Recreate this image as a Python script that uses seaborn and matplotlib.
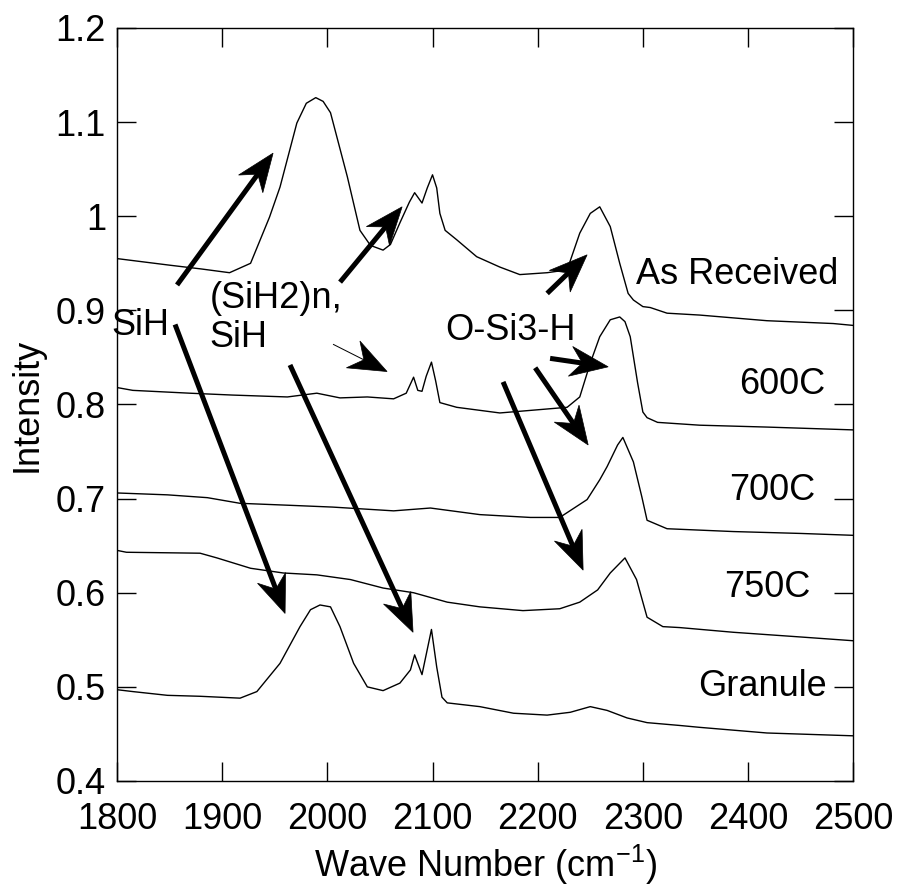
import matplotlib
matplotlib.use("Agg")
import matplotlib.pyplot as plt
import seaborn as sns
import pandas as pd
import numpy as np
from matplotlib.patches import Polygon
from matplotlib.lines import Line2D
from matplotlib.transforms import IdentityTransform

# ---- data ----
as_x = [1800, 1850, 1880, 1907, 1927, 1945, 1955, 1971, 1980, 1989, 1996, 2003, 2019, 2031, 2041, 2053,
        2060, 2069, 2078, 2083, 2090, 2095, 2100, 2104, 2107, 2112, 2123, 2142, 2164, 2183, 2209, 2228,
        2240, 2250, 2259, 2269, 2278, 2286, 2291, 2300, 2307, 2323, 2354, 2418, 2481, 2500]
as_y = [0.955, 0.948, 0.944, 0.940, 0.950, 0.999, 1.031, 1.099, 1.120, 1.126, 1.122, 1.110, 1.042, 0.985,
        0.969, 0.964, 0.970, 0.993, 1.015, 1.025, 1.014, 1.030, 1.044, 1.030, 1.003, 0.985, 0.975, 0.957,
        0.946, 0.938, 0.940, 0.943, 0.982, 1.003, 1.010, 0.989, 0.950, 0.918, 0.911, 0.904, 0.903, 0.897,
        0.895, 0.889, 0.886, 0.884]

c600_x = [1800, 1815, 1869, 1910, 1962, 1990, 2012, 2038, 2063, 2075, 2082, 2086, 2090, 2094, 2099, 2103,
          2107, 2123, 2164, 2196, 2228, 2240, 2250, 2259, 2269, 2278, 2283, 2288, 2295, 2300, 2304, 2314,
          2354, 2418, 2500]
c600_y = [0.818, 0.815, 0.812, 0.810, 0.808, 0.812, 0.807, 0.808, 0.806, 0.812, 0.829, 0.815, 0.814, 0.830,
          0.845, 0.825, 0.802, 0.797, 0.791, 0.794, 0.797, 0.808, 0.844, 0.872, 0.890, 0.893, 0.888, 0.872,
          0.823, 0.792, 0.786, 0.781, 0.778, 0.776, 0.773]

c700_x = [1800, 1848, 1886, 1917, 1962, 2005, 2063, 2098, 2145, 2193, 2221, 2247, 2259, 2266, 2276, 2281,
          2291, 2299, 2304, 2323, 2386, 2450, 2500]
c700_y = [0.706, 0.704, 0.701, 0.695, 0.693, 0.691, 0.687, 0.690, 0.683, 0.680, 0.680, 0.699, 0.720, 0.734,
          0.757, 0.765, 0.739, 0.702, 0.677, 0.668, 0.665, 0.663, 0.661]

c750_x = [1800, 1809, 1879, 1895, 1927, 1958, 1990, 2022, 2053, 2082, 2114, 2145, 2186, 2221, 2240, 2257,
          2269, 2283, 2294, 2304, 2319, 2335, 2386, 2450, 2500]
c750_y = [0.645, 0.643, 0.642, 0.637, 0.626, 0.621, 0.619, 0.614, 0.605, 0.600, 0.590, 0.585, 0.581, 0.583,
          0.590, 0.603, 0.621, 0.637, 0.614, 0.574, 0.564, 0.563, 0.558, 0.553, 0.549]

gr_x = [1800, 1815, 1848, 1879, 1917, 1933, 1955, 1974, 1984, 1993, 2003, 2012, 2025, 2038, 2053, 2069,
        2079, 2083, 2090, 2099, 2104, 2109, 2114, 2145, 2177, 2209, 2231, 2250, 2266, 2285, 2304, 2335,
        2354, 2418, 2500]
gr_y = [0.497, 0.495, 0.491, 0.490, 0.488, 0.495, 0.525, 0.564, 0.582, 0.587, 0.585, 0.564, 0.525, 0.500,
        0.496, 0.504, 0.518, 0.534, 0.513, 0.561, 0.521, 0.489, 0.483, 0.479, 0.472, 0.470, 0.473, 0.479,
        0.475, 0.467, 0.462, 0.459, 0.457, 0.451, 0.448]

series_names = ["As Received", "600C", "700C", "750C", "Granule"]
x_ticks = [1800, 1900, 2000, 2100, 2200, 2300, 2400, 2500]
y_ticks = [0.4, 0.5, 0.6, 0.7, 0.8, 0.9, 1.0, 1.1, 1.2]
y_tick_labels = ["0.4", "0.5", "0.6", "0.7", "0.8", "0.9", "1", "1.1", "1.2"]

# ---- style ----
sns.set_style("ticks")
plt.rcParams["font.family"] = ["Liberation Sans", "DejaVu Sans"]
plt.rcParams["mathtext.fontset"] = "custom"
plt.rcParams["mathtext.rm"] = "Liberation Sans"
plt.rcParams["mathtext.it"] = "Liberation Sans"
plt.rcParams["text.color"] = "black"
plt.rcParams["axes.labelcolor"] = "black"
plt.rcParams["xtick.color"] = "black"
plt.rcParams["ytick.color"] = "black"

FS = 26

fig = plt.figure(figsize=(9, 8.88), dpi=100)
ax = fig.add_axes([0.13, 0.1205, 0.818, 0.848])

frames = []
for name, xs, ys in zip(series_names,
                        [as_x, c600_x, c700_x, c750_x, gr_x],
                        [as_y, c600_y, c700_y, c750_y, gr_y]):
    frames.append(pd.DataFrame({"wave": xs, "intensity": ys, "sample": name}))
df = pd.concat(frames, ignore_index=True)

for name in series_names:
    sub = df[df["sample"] == name]
    sns.lineplot(data=sub, x="wave", y="intensity", ax=ax, color="black",
                 linewidth=1.0, sort=False, estimator=None, legend=False)

ax.set_xlim(1800, 2500)
ax.set_ylim(0.4, 1.2)
ax.set_xticks(x_ticks)
ax.set_xticklabels([str(t) for t in x_ticks])
ax.set_yticks(y_ticks)
ax.set_yticklabels(y_tick_labels)
ax.tick_params(axis="both", direction="in", length=14, width=1, top=True, right=True,
               labelsize=FS, colors="black")
ax.tick_params(axis="x", pad=15)
ax.tick_params(axis="y", pad=8)
for s in ax.spines.values():
    s.set_color("black")
    s.set_linewidth(1.0)
ax.set_xlabel("Wave Number (cm$^{-1}$)", fontsize=FS, labelpad=4)
ax.set_ylabel("Intensity", fontsize=FS, labelpad=8)

# curve labels
ax.text(2486, 0.938, "As Received", ha="right", va="center", fontsize=FS)
ax.text(2474, 0.821, "600C", ha="right", va="center", fontsize=FS)
ax.text(2464, 0.709, "700C", ha="right", va="center", fontsize=FS)
ax.text(2459, 0.606, "750C", ha="right", va="center", fontsize=FS)
ax.text(2475, 0.500, "Granule", ha="right", va="center", fontsize=FS)

# assignment labels
ax.text(1822, 0.884, "SiH", ha="center", va="center", fontsize=FS)
ax.text(1888, 0.892, "(SiH2)n,\nSiH", ha="left", va="center", fontsize=FS, linespacing=1.15)
ax.text(2174, 0.879, "O-Si3-H", ha="center", va="center", fontsize=FS)

# arrows (tail, head, line width in px)
arrows = [
    ((1857.1, 0.927), (1948.4, 1.067), 5.0),
    ((1855.2, 0.885), (1959.8, 0.578), 5.0),
    ((2012.1, 0.930), (2071.1, 1.010), 5.0),
    ((2005.4, 0.864), (2056.8, 0.835), 1.0),
    ((1964.5, 0.842), (2081.5, 0.558), 5.0),
    ((2209.0, 0.918), (2247.0, 0.959), 5.0),
    ((2211.8, 0.849), (2267.0, 0.840), 5.0),
    ((2197.6, 0.839), (2248.0, 0.757), 5.0),
    ((2167.1, 0.824), (2243.2, 0.624), 5.0),
]
HL, HW, NOTCH = 38.0, 15.0, 12.0
for tail, head, lwpx in arrows:
    t = ax.transData.transform(tail)
    h = ax.transData.transform(head)
    d = h - t
    u = d / np.hypot(*d)
    n = np.array([-u[1], u[0]])
    back = h - (HL - NOTCH) * u
    pts = [h, h - HL * u + HW * n, back, h - HL * u - HW * n]
    fig.add_artist(Line2D([t[0], back[0] + 2 * u[0]], [t[1], back[1] + 2 * u[1]],
                          transform=IdentityTransform(), color="black",
                          linewidth=lwpx * 0.72, solid_capstyle="butt"))
    fig.add_artist(Polygon(pts, closed=True, transform=IdentityTransform(),
                           facecolor="black", edgecolor="black", linewidth=0.5))

fig.savefig("out.png", dpi=100, facecolor="white")
